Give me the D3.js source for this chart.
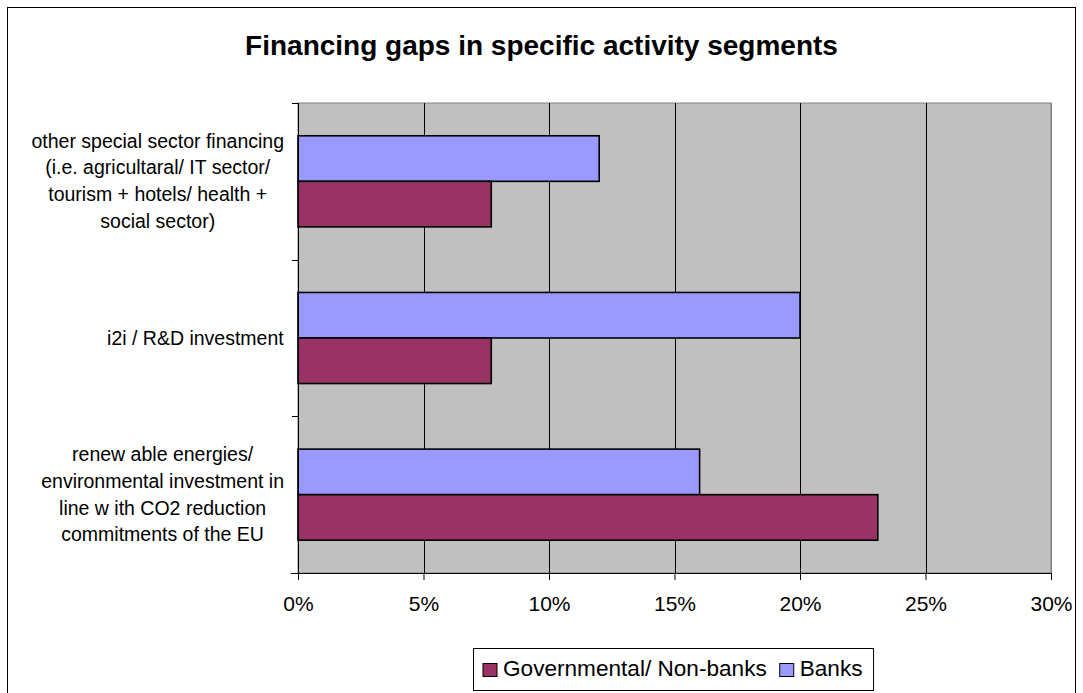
<!DOCTYPE html>
<html>
<head>
<meta charset="utf-8">
<script src="https://cdn.jsdelivr.net/npm/d3@7/dist/d3.min.js"></script>
<style>
  html, body { margin: 0; padding: 0; background: #fff; }
  svg { display: block; font-family: "Liberation Sans", Arial, sans-serif; }
</style>
</head>
<body>
<svg id="chart" width="1083" height="693"></svg>
<script>
// Activity segments, listed top to bottom, each split into display lines
const categories = [
  ["other special sector financing", "(i.e. agricultaral/ IT sector/", "tourism + hotels/ health +", "social sector)"],
  ["i2i / R&D investment"],
  ["renew able energies/", "environmental investment in", "line w ith CO2 reduction", "commitments of the EU"]
];
// Share of respondents reporting a gap (fractions), same order as categories
const governmental = [0.077, 0.077, 0.231];
const banks = [0.12, 0.20, 0.16];
const seriesNames = ["Governmental/ Non-banks", "Banks"];
const seriesColors = ["#993366", "#9999FF"];
const xTicks = [0, 0.05, 0.10, 0.15, 0.20, 0.25, 0.30];
const title = "Financing gaps in specific activity segments";

const svg = d3.select("#chart");
const W = 1083, H = 693;
const plot = { left: 298, right: 1051, top: 103, bottom: 573 };
const font = '"Liberation Sans", Arial, sans-serif';

// outer chart frame
svg.append("rect")
  .attr("x", 7.5).attr("y", 7.5)
  .attr("width", 1068).attr("height", 700)
  .attr("fill", "#fff").attr("stroke", "#000").attr("stroke-width", 1);

// title
svg.append("text")
  .attr("x", W / 2).attr("y", 55)
  .attr("text-anchor", "middle")
  .attr("font-size", 28).attr("font-weight", "bold")
  .attr("fill", "#000")
  .text(title);

const x = d3.scaleLinear().domain([0, 0.30]).range([plot.left, plot.right]);
const y = d3.scaleBand().domain(d3.range(categories.length)).range([plot.top, plot.bottom]);
// within each band: Banks on top, Governmental below
const yInner = d3.scaleBand().domain(["banks", "gov"]).range([0, y.bandwidth()])
  .paddingInner(0).paddingOuter(0.72);

// plot background
svg.append("rect")
  .attr("x", plot.left).attr("y", plot.top)
  .attr("width", plot.right - plot.left).attr("height", plot.bottom - plot.top)
  .attr("fill", "#C0C0C0").attr("stroke", "#808080").attr("stroke-width", 1);

// vertical gridlines
svg.append("g")
  .selectAll("line")
  .data(xTicks.slice(1))
  .join("line")
  .attr("x1", d => Math.round(x(d)) + 0.5).attr("x2", d => Math.round(x(d)) + 0.5)
  .attr("y1", plot.top).attr("y2", plot.bottom)
  .attr("stroke", d => d === 0.30 ? "#808080" : "#000").attr("stroke-width", 1);

// bars
const rows = categories.map((c, i) => ({ i, gov: governmental[i], banks: banks[i] }));
const barG = svg.append("g");
rows.forEach(r => {
  [["banks", r.banks, seriesColors[1]], ["gov", r.gov, seriesColors[0]]].forEach(([k, v, col]) => {
    barG.append("rect")
      .attr("x", x(0))
      .attr("y", y(r.i) + yInner(k))
      .attr("width", x(v) - x(0))
      .attr("height", yInner.bandwidth())
      .attr("fill", col)
      .attr("stroke", "#000")
      .attr("stroke-width", 1.6);
  });
});

// x axis
const xAxis = d3.axisBottom(x).tickValues(xTicks)
  .tickFormat(d3.format(".0%")).tickSize(7).tickPadding(16);
const gx = svg.append("g")
  .attr("transform", `translate(0,${plot.bottom})`)
  .call(xAxis);
gx.select(".domain").attr("stroke", "#000").attr("d", `M${plot.left - 7},0.5H${plot.right}`);
gx.selectAll(".tick line").attr("stroke", "#000");
gx.selectAll(".tick text")
  .attr("font-family", font).attr("font-size", 21).attr("fill", "#000");

// y axis line with ticks at band boundaries
svg.append("line")
  .attr("x1", plot.left + 0.5).attr("x2", plot.left + 0.5)
  .attr("y1", plot.top).attr("y2", plot.bottom)
  .attr("stroke", "#000");
const boundaries = d3.range(categories.length + 1).map(i => plot.top + i * y.step());
svg.append("g").selectAll("line")
  .data(boundaries)
  .join("line")
  .attr("x1", plot.left - 6).attr("x2", plot.left)
  .attr("y1", d => Math.round(d) + 0.5).attr("y2", d => Math.round(d) + 0.5)
  .attr("stroke", "#000");

// category labels: centred lines, block right-aligned to the axis
const lineH = 26.7;
categories.forEach((lines, i) => {
  const g = svg.append("g");
  const cy = y(i) + y.bandwidth() / 2;
  const t = g.append("text")
    .attr("font-family", font).attr("font-size", 19.5).attr("fill", "#000")
    .attr("text-anchor", "middle");
  lines.forEach((ln, j) => {
    t.append("tspan")
      .attr("x", 0)
      .attr("y", cy + (j - (lines.length - 1) / 2) * lineH + 6.5)
      .text(ln);
  });
  const w = t.node().getBBox().width;
  t.attr("transform", `translate(${284 - w / 2},0)`);
});

// legend
const legend = svg.append("g");
const legBox = legend.append("rect")
  .attr("y", 648.5).attr("height", 42)
  .attr("fill", "#fff").attr("stroke", "#000").attr("stroke-width", 1);
let lx = 483;
seriesNames.forEach((name, i) => {
  legend.append("rect")
    .attr("x", lx).attr("y", 663.5).attr("width", 14).attr("height", 13)
    .attr("fill", seriesColors[i]).attr("stroke", "#000").attr("stroke-width", 1);
  const t = legend.append("text")
    .attr("x", lx + 20).attr("y", 675.5)
    .attr("font-family", font).attr("font-size", 22.6).attr("fill", "#000")
    .text(name);
  lx = lx + 20 + t.node().getComputedTextLength() + 13;
});
legBox.attr("x", 473.5).attr("width", lx - 13 + 11 - 473.5);
</script>
</body>
</html>
